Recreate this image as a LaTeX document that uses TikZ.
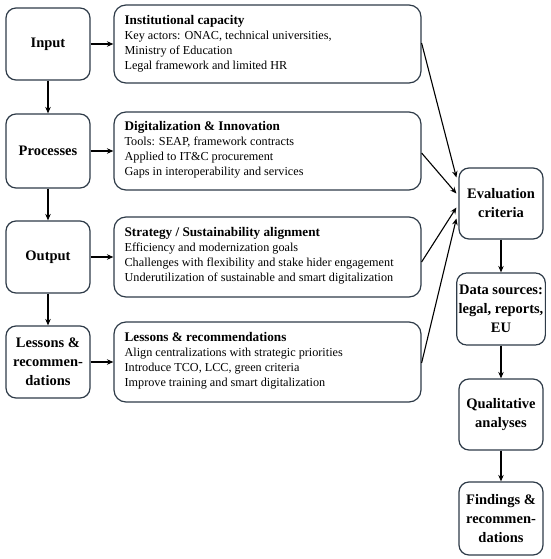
\documentclass[tikz,border=0pt]{standalone}
\usepackage{fontspec}
\setmainfont{Liberation Serif}
\usetikzlibrary{arrows.meta,calc}
\definecolor{boxline}{HTML}{2E3B48}
\tikzset{
  stage/.style={draw=boxline, line width=1.2pt, rounded corners=10pt, minimum width=84pt, align=center, font=\fontsize{14.5}{19}\selectfont\bfseries, inner sep=2pt},
  info/.style={draw=boxline, line width=1.2pt, rounded corners=12pt, minimum width=307pt},
  infotext/.style={anchor=west, align=left, font=\fontsize{12.2}{15}\selectfont, inner sep=0pt},
  conn/.style={-{Stealth[length=6.5pt,width=5.5pt]}, line width=1.1pt, black},
}
\begin{document}
\begin{tikzpicture}[x=1pt,y=-1pt]
\useasboundingbox (0,0) rectangle (550,559);
% left column
\node[stage, minimum height=72pt] (in) at (48,44) {Input};
\node[stage, minimum height=74pt] (pr) at (48,151) {Processes};
\node[stage, minimum height=72pt] (ou) at (48,257) {Output};
\node[stage, minimum height=72pt] (le) at (48,362) {Lessons \&\\recommen-\\dations};
% middle column
\node[info, minimum height=78pt] (ic) at (267.5,44) {};
\node[infotext] (ict) at ([xshift=11pt]ic.west) {{\fontsize{13.2}{15}\selectfont\bfseries Institutional capacity}\\Key actors: ONAC, technical universities,\\Ministry of Education\\Legal framework and limited HR};
\node[info, minimum height=78pt] (di) at (267.5,151) {};
\node[infotext] (dit) at ([xshift=11pt,yshift=1.5pt]di.west) {{\fontsize{13.2}{15}\selectfont\bfseries Digitalization \& Innovation}\\Tools: SEAP, framework contracts\\Applied to IT\&C procurement\\Gaps in interoperability and services};
\node[info, minimum height=80pt] (st) at (267.5,257) {};
\node[infotext] (stt) at ([xshift=11pt,yshift=1.5pt]st.west) {{\fontsize{13.2}{15}\selectfont\bfseries Strategy / Sustainability alignment}\\Efficiency and modernization goals\\Challenges with flexibility and stake hider engagement\\Underutilization of sustainable and smart digitalization};
\node[info, minimum height=80pt] (lr) at (267.5,362) {};
\node[infotext] (lrt) at ([xshift=11pt,yshift=1.5pt]lr.west) {{\fontsize{13.2}{15}\selectfont\bfseries Lessons \& recommendations}\\Align centralizations with strategic priorities\\Introduce TCO, LCC, green criteria\\Improve training and smart digitalization};
% right column
\node[stage, minimum height=71pt] (ev) at (501,203.5) {Evaluation\\criteria};
\node[stage, minimum height=72pt] (ds) at (501,309) {Data sources:\\legal, reports,\\EU};
\node[stage, minimum height=71pt] (qa) at (501,414.5) {Qualitative\\analyses};
\node[stage, minimum height=73pt] (fr) at (501,518.5) {Findings \&\\recommen-\\dations};
% arrows
\draw[conn] (in) -- (ic);
\draw[conn] (pr) -- (di);
\draw[conn] (ou) -- (st);
\draw[conn] (le) -- (lr);
\draw[conn] (in) -- (pr);
\draw[conn] (pr) -- (ou);
\draw[conn] (ou) -- (le);
\draw[conn] ($(ic.east)+(0,-1)$) -- ($(ev.west)+(-2,-26)$);
\draw[conn] ($(di.east)+(0,2)$) -- ($(ev.west)+(-2,-10)$);
\draw[conn] ($(st.east)+(0,5)$) -- ($(ev.west)+(-2,4)$);
\draw[conn] ($(lr.east)+(0,1)$) -- ($(ev.west)+(-2,15)$);
\draw[conn] (ev) -- (ds);
\draw[conn] (ds) -- (qa);
\draw[conn] (qa) -- (fr);
\end{tikzpicture}
\end{document}
